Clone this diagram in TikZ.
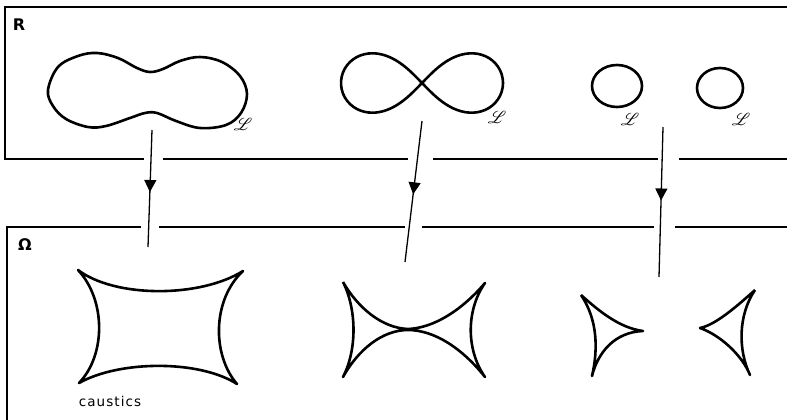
\documentclass[tikz,border=0pt]{standalone}
\usepackage{fontspec}
\setsansfont{DejaVu Sans}
\usepackage{mathrsfs}
\usepackage{tikz}
\usetikzlibrary{arrows.meta, decorations.markings}

\begin{document}
\begin{tikzpicture}[
    x=1pt, y=-1pt,
    frame/.style={line width=1.8pt},
    curve/.style={line width=2.6pt, line join=round},
    maparrow/.style={line width=1.3pt, postaction={decorate},
        decoration={markings, mark=at position #1 with {\arrow{Triangle[length=12pt,width=12pt]}}}},
    panellbl/.style={font=\sffamily\bfseries\fontsize{16}{16}\selectfont, inner sep=0pt},
    curvelbl/.style={font=\fontsize{19}{19}\selectfont, inner sep=0pt},
]
    \useasboundingbox (0,0) rectangle (787,420);
    \draw[frame] (787,7) -- (5,7) -- (5,159) -- (144,159);
    \draw[frame] (163,159) -- (408,159);
    \draw[frame] (433,159) -- (658,159);
    \draw[frame] (679,159) -- (787,159);
    \draw[frame] (7,420) -- (7,227) -- (141,227);
    \draw[frame] (159,227) -- (405,227);
    \draw[frame] (422,227) -- (654,227);
    \draw[frame] (675,227) -- (787,227);
    \node[panellbl] (lblR) at (19,25) {R};
    \node[panellbl] (lblOmega) at (25,245) {Ω};
    \draw[curve] plot[smooth cycle, tension=0.6] coordinates {
        (48,90) (58,67) (78,56) (97,53) (118,58) (137,68) (150,72) (163,69)
        (180,61) (200,57) (222,62) (240,76) (247,94) (241,113) (226,125)
        (200,128) (176,121) (157,113) (145,113) (130,118) (106,126) (88,127)
        (66,119) (53,106)};
    \draw[curve] plot[domain=0:360, samples=120, smooth]
        ({422+81*cos(\x)/(1+sin(\x)^2)}, {83+84*sin(\x)*cos(\x)/(1+sin(\x)^2)});
    \draw[curve] (617,86) ellipse [x radius=25, y radius=21];
    \draw[curve] (720,88) ellipse [x radius=23, y radius=20];
    \node[curvelbl] (lblL1) at (243,124) {$\mathscr{L}$};
    \node[curvelbl] (lblL2) at (497,117) {$\mathscr{L}$};
    \node[curvelbl] (lblL3) at (630,119) {$\mathscr{L}$};
    \node[curvelbl] (lblL4) at (741,119) {$\mathscr{L}$};
    \draw[curve] (78,270) .. controls (115,298) and (200,298) .. (243,271)
        .. controls (212,300) and (212,355) .. (237,384)
        .. controls (200,360) and (120,360) .. (79,383)
        .. controls (106,355) and (106,300) .. (78,270) -- cycle;
    \draw[curve] (343,282) .. controls (358,308) and (382,328) .. (408,329)
        .. controls (434,328) and (462,310) .. (485,283)
        .. controls (466,310) and (466,350) .. (485,377)
        .. controls (462,348) and (434,330) .. (408,330)
        .. controls (382,330) and (358,350) .. (343,377)
        .. controls (357,350) and (357,310) .. (343,282);
    \draw[curve] (581,295) .. controls (600,312) and (620,328) .. (643,331)
        .. controls (615,332) and (598,352) .. (592,376)
        .. controls (598,350) and (598,320) .. (581,295);
    \draw[curve] (755,290) .. controls (738,315) and (738,350) .. (750,375)
        .. controls (742,355) and (720,335) .. (700,328)
        .. controls (715,325) and (735,308) .. (755,290);
    \node[font=\sffamily\fontsize{13.5}{13.5}\selectfont\addfontfeatures{LetterSpace=8}, inner sep=0pt] (lblCaustics) at (110,401) {caustics};
    \coordinate (srcA) at (152,130);
    \coordinate (dstA) at (148,247);
    \coordinate (srcB) at (422,121);
    \coordinate (dstB) at (405,262);
    \coordinate (srcC) at (663,127);
    \coordinate (dstC) at (659,277);
    \draw[maparrow=0.53] (srcA) -- (dstA);
    \draw[maparrow=0.52] (srcB) -- (dstB);
    \draw[maparrow=0.49] (srcC) -- (dstC);
\end{tikzpicture}
\end{document}
